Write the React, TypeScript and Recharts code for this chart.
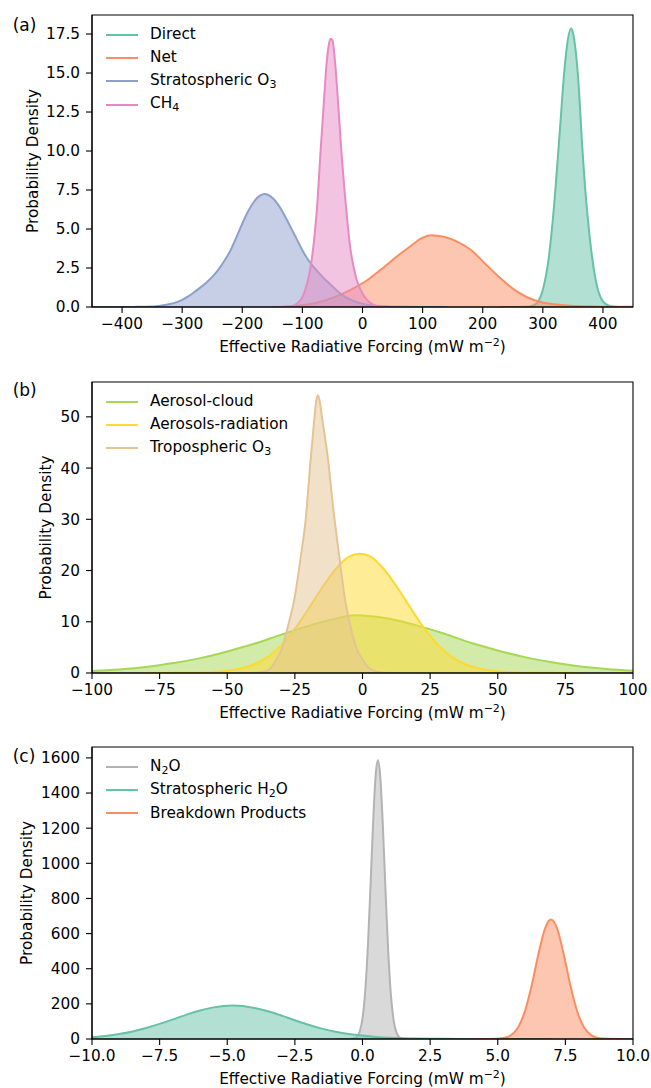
import React from "react";
import { Area, ComposedChart, Legend, ReferenceArea, XAxis, YAxis } from "recharts";

// Three stacked KDE panels: (a) direct/net/strat O3/CH4, (b) aerosols + trop O3, (c) N2O etc.
// Points are [forcing, density].

type Pt = [number, number];

const FONT = "'DejaVu Sans', sans-serif";
const FS = 15.3;
const SET2 = {
  green: "#66c2a5",
  orange: "#fc8d62",
  blue: "#8da0cb",
  pink: "#e78ac3",
  lime: "#a6d854",
  yellow: "#ffd92f",
  tan: "#e5c494",
  grey: "#b3b3b3",
};

// ---- panel (a) ----
const aDirect: Pt[] = [
  [230, 0], [260, 0.005], [270, 0.01], [280, 0.05], [290, 0.25], [300, 1.1], [310, 3.2],
  [320, 7.1], [325, 9.6], [330, 12.2], [335, 14.8], [340, 16.7], [347, 17.85], [350, 17.6],
  [355, 16.3], [360, 14.0], [365, 10.6], [370, 7.8], [375, 5.6], [380, 3.8], [390, 1.35],
  [400, 0.36], [410, 0.08], [420, 0.015], [435, 0], [450, 0],
];
const aNet: Pt[] = [
  [-150, 0], [-125, 0.03], [-106, 0.1], [-78, 0.26], [-49, 0.6], [-20, 1.1], [9, 1.75],
  [37, 2.6], [55, 3.17], [78, 3.85], [100, 4.45], [115, 4.6], [135, 4.5], [158, 4.18],
  [181, 3.64], [204, 2.78], [227, 1.93], [250, 1.18], [273, 0.64], [296, 0.32], [319, 0.17],
  [353, 0.06], [400, 0.02], [450, 0.01],
];
const aStratO3: Pt[] = [
  [-450, 0], [-400, 0.002], [-380, 0.007], [-360, 0.022], [-340, 0.07], [-320, 0.19],
  [-310, 0.3], [-300, 0.46], [-290, 0.68], [-280, 0.95], [-270, 1.24], [-260, 1.56],
  [-250, 1.93], [-240, 2.38], [-230, 2.95], [-220, 3.6], [-210, 4.45], [-200, 5.35],
  [-190, 6.15], [-180, 6.78], [-170, 7.15], [-163, 7.24], [-150, 7.0], [-140, 6.55],
  [-130, 5.9], [-120, 5.15], [-110, 4.4], [-100, 3.64], [-90, 3.0], [-80, 2.5], [-70, 2.08],
  [-60, 1.68], [-50, 1.32], [-40, 0.96], [-30, 0.68], [-20, 0.47], [-10, 0.32], [0, 0.21],
  [10, 0.13], [20, 0.08], [40, 0.03], [60, 0.01], [100, 0], [140, 0],
];
const aCH4: Pt[] = [
  [-140, 0], [-120, 0.04], [-110, 0.19], [-100, 0.63], [-95, 1.13], [-90, 1.84], [-85, 2.9],
  [-80, 4.5], [-75, 6.7], [-70, 9.85], [-65, 12.7], [-60, 15.5], [-55, 17.0], [-53, 17.2],
  [-50, 17.1], [-45, 15.4], [-40, 12.75], [-35, 9.9], [-30, 7.5], [-25, 5.4], [-20, 3.7],
  [-15, 2.6], [-10, 1.8], [-5, 1.27], [0, 0.86], [10, 0.35], [20, 0.12], [30, 0.03], [45, 0],
];
const aXTicks = [-400, -300, -200, -100, 0, 100, 200, 300, 400];
const aYTicks = [0, 2.5, 5, 7.5, 10, 12.5, 15, 17.5];

// ---- panel (b) ----
const bCloud: Pt[] = [
  [-100, 0.4], [-90, 0.7], [-80, 1.17], [-70, 1.95], [-60, 2.9], [-50, 4.2], [-40, 5.7],
  [-30, 7.5], [-20, 9.2], [-10, 10.6], [-3, 11.26], [0, 11.2], [10, 10.6], [20, 9.3],
  [30, 7.7], [40, 5.9], [50, 4.4], [60, 3.1], [70, 2.1], [80, 1.3], [90, 0.78], [100, 0.45],
];
const bRadiation: Pt[] = [
  [-80, 0], [-70, 0.02], [-60, 0.08], [-55, 0.2], [-50, 0.45], [-45, 0.9], [-40, 1.7],
  [-35, 3.15], [-30, 5.4], [-25, 8.6], [-20, 12.5], [-15, 16.6], [-10, 20.2], [-5, 22.7],
  [-1, 23.3], [3, 22.7], [8, 20.2], [13, 16.6], [18, 12.5], [23, 8.6], [28, 5.4], [33, 3.15],
  [38, 1.7], [43, 0.9], [48, 0.45], [55, 0.15], [65, 0.03], [80, 0],
];
const bTropO3: Pt[] = [
  [-45, 0], [-40, 0.05], [-37, 0.2], [-34, 0.9], [-32, 2.5], [-30, 4.5], [-27.6, 9],
  [-25, 15], [-23, 22], [-21, 30], [-19.2, 41.5], [-18, 48.5], [-17.2, 52.8], [-16.5, 54.2],
  [-15.8, 53], [-15, 50], [-12.7, 41.5], [-11, 33], [-8.4, 22], [-6.5, 14.5], [-4.4, 9],
  [-2, 4.5], [0.2, 2.5], [2, 1.2], [5, 0.3], [8, 0.05], [15, 0],
];
const bXTicks = [-100, -75, -50, -25, 0, 25, 50, 75, 100];
const bYTicks = [0, 10, 20, 30, 40, 50];

// ---- panel (c) ----
const cN2O: Pt[] = [
  [-1, 0], [-0.5, 0.2], [-0.3, 3.7], [-0.2, 14], [-0.1, 44], [0, 117], [0.1, 271], [0.2, 531],
  [0.3, 886], [0.4, 1260], [0.5, 1526], [0.57, 1587], [0.65, 1508], [0.75, 1225], [0.85, 848],
  [0.95, 500], [1.05, 251], [1.15, 107], [1.25, 39], [1.35, 12], [1.5, 2], [1.7, 0.2], [2.5, 0],
];
const cStratH2O: Pt[] = [
  [-10, 10], [-9.5, 17.4], [-9, 28], [-8.5, 43], [-8, 63], [-7.5, 86], [-7, 112], [-6.5, 139],
  [-6, 162], [-5.5, 180], [-4.8, 190], [-4, 177], [-3.5, 158], [-3, 134], [-2.5, 107],
  [-2, 81], [-1.5, 59], [-1, 41], [-0.5, 28], [0, 20], [0.5, 12], [1, 7], [1.5, 4], [2, 2.5],
  [3, 1], [4, 0.3], [5, 0.1], [7, 0],
];
const cBreakdown: Pt[] = [
  [4, 0], [5, 1.6], [5.25, 6.6], [5.5, 23], [5.75, 66], [6, 156], [6.25, 302], [6.5, 481],
  [6.75, 630], [6.97, 680], [7.2, 626], [7.45, 474], [7.7, 295], [7.95, 151], [8.2, 64],
  [8.45, 22], [8.7, 6.2], [9, 1.1], [10, 0],
];
const cXTicks = [-10, -7.5, -5, -2.5, 0, 2.5, 5, 7.5, 10];
const cYTicks = [0, 200, 400, 600, 800, 1000, 1200, 1400, 1600];

const rows = (pts: Pt[]) => pts.map(([x, y]) => ({ x, y }));
const minus = (s: string) => s.replace("-", "\u2212");
const intFmt = (v: number) => minus(String(v));
const oneDec = (v: number) => minus(v.toFixed(1));

const sub = (t: string) => (
  <span style={{ fontSize: 11, position: "relative", top: 3 }}>{t}</span>
);

type Series = { name: string; label: React.ReactNode; color: string; data: Pt[] };

type PanelProps = {
  letter: string;
  letterDy: number;
  plotTop: number;
  plotH: number;
  xDomain: [number, number];
  xTicks: number[];
  xFmt: (v: number) => string;
  yMax: number;
  yTicks: number[];
  yFmt: (v: number) => string;
  yLabelX: number;
  series: Series[];
};

const MT = 15;
const XAXIS_H = 50;

function LegendBox({ series }: { series: Series[] }) {
  return (
    <div style={{ fontFamily: FONT, fontSize: FS, color: "#000" }}>
      {series.map((s) => (
        <div key={s.name} style={{ display: "flex", alignItems: "center", height: 23.3 }}>
          <span style={{ width: 32, height: 2, background: s.color, marginRight: 12 }} />
          <span style={{ lineHeight: `${FS}px`, whiteSpace: "nowrap" }}>{s.label}</span>
        </div>
      ))}
    </div>
  );
}

function Panel(p: PanelProps) {
  const H = MT + p.plotH + XAXIS_H;
  const tickStyle = { fontSize: FS, fill: "#000", fontFamily: FONT };
  return (
    <div style={{ position: "absolute", left: 0, top: p.plotTop - MT, width: 651, height: H }}>
      <div
        style={{
          position: "absolute", left: 12.7, top: MT + p.letterDy - 14.4, fontFamily: FONT,
          fontSize: 17, lineHeight: "17px", color: "#000",
        }}
      >
        {p.letter}
      </div>
      <ComposedChart width={651} height={H} margin={{ top: MT, right: 18, bottom: 0, left: 0 }}>
        {p.series.map((s) => (
          <Area
            key={s.name}
            data={rows(s.data)}
            dataKey="y"
            name={s.name}
            type="monotone"
            stroke={s.color}
            strokeWidth={2}
            fill={s.color}
            fillOpacity={0.5}
            dot={false}
            activeDot={false}
            isAnimationActive={false}
          />
        ))}
        <ReferenceArea
          x1={p.xDomain[0]}
          x2={p.xDomain[1]}
          y1={0}
          y2={p.yMax}
          fill="none"
          stroke="#000"
          strokeWidth={1.1}
        />
        <XAxis
          dataKey="x"
          type="number"
          domain={p.xDomain}
          ticks={p.xTicks}
          allowDataOverflow
          tickFormatter={p.xFmt}
          tick={tickStyle}
          tickSize={6}
          tickMargin={5}
          height={XAXIS_H}
          stroke="#000"
          axisLine={{ stroke: "#000", strokeWidth: 1.1 }}
          tickLine={{ stroke: "#000", strokeWidth: 1.1 }}
          label={{
            content: (props: any) => {
              const vb = props.viewBox;
              return (
                <text
                  x={vb.x + vb.width / 2}
                  y={vb.y + 45}
                  textAnchor="middle"
                  fontSize={FS}
                  fontFamily={FONT}
                  fill="#000"
                >
                  Effective Radiative Forcing (mW m
                  <tspan dy={-6.5} fontSize={11}>{"\u22122"}</tspan>
                  <tspan dy={6.5}>)</tspan>
                </text>
              );
            },
          }}
        />
        <YAxis
          type="number"
          domain={[0, p.yMax]}
          ticks={p.yTicks}
          allowDataOverflow
          tickFormatter={p.yFmt}
          tick={tickStyle}
          tickSize={6}
          tickMargin={6}
          width={92}
          stroke="#000"
          axisLine={{ stroke: "#000", strokeWidth: 1.1 }}
          tickLine={{ stroke: "#000", strokeWidth: 1.1 }}
          label={{
            content: (props: any) => {
              const vb = props.viewBox;
              const cy = vb.y + vb.height / 2;
              return (
                <text
                  transform={`translate(${p.yLabelX + 4}, ${cy}) rotate(-90)`}
                  textAnchor="middle"
                  fontSize={FS}
                  fontFamily={FONT}
                  fill="#000"
                >
                  Probability Density
                </text>
              );
            },
          }}
        />
        <Legend
          layout="vertical"
          align="center"
          verticalAlign="middle"
          wrapperStyle={{ left: 106, top: MT + 19.7 - 11.65, width: "auto", height: "auto" }}
          content={() => <LegendBox series={p.series} />}
        />
      </ComposedChart>
    </div>
  );
}

export default function App() {
  return (
    <div
      style={{
        position: "absolute", left: 0, top: 0, width: 651, height: 1088,
        background: "#fff", overflow: "hidden",
      }}
    >
      <Panel
        letter="(a)"
        letterDy={16}
        plotTop={15}
        plotH={292}
        xDomain={[-450, 450]}
        xTicks={aXTicks}
        xFmt={intFmt}
        yMax={18.72}
        yTicks={aYTicks}
        yFmt={oneDec}
        yLabelX={33.5}
        series={[
          { name: "Direct", label: "Direct", color: SET2.green, data: aDirect },
          { name: "Net", label: "Net", color: SET2.orange, data: aNet },
          { name: "Stratospheric O3", label: <>Stratospheric O{sub("3")}</>, color: SET2.blue, data: aStratO3 },
          { name: "CH4", label: <>CH{sub("4")}</>, color: SET2.pink, data: aCH4 },
        ]}
      />
      <Panel
        letter="(b)"
        letterDy={14}
        plotTop={382}
        plotH={291}
        xDomain={[-100, 100]}
        xTicks={bXTicks}
        xFmt={intFmt}
        yMax={56.8}
        yTicks={bYTicks}
        yFmt={intFmt}
        yLabelX={47}
        series={[
          { name: "Aerosol-cloud", label: "Aerosol-cloud", color: SET2.lime, data: bCloud },
          { name: "Aerosols-radiation", label: "Aerosols-radiation", color: SET2.yellow, data: bRadiation },
          { name: "Tropospheric O3", label: <>Tropospheric O{sub("3")}</>, color: SET2.tan, data: bTropO3 },
        ]}
      />
      <Panel
        letter="(c)"
        letterDy={15}
        plotTop={747}
        plotH={292}
        xDomain={[-10, 10]}
        xTicks={cXTicks}
        xFmt={oneDec}
        yMax={1662}
        yTicks={cYTicks}
        yFmt={intFmt}
        yLabelX={28}
        series={[
          { name: "N2O", label: <>N{sub("2")}O</>, color: SET2.grey, data: cN2O },
          { name: "Stratospheric H2O", label: <>Stratospheric H{sub("2")}O</>, color: SET2.green, data: cStratH2O },
          { name: "Breakdown Products", label: "Breakdown Products", color: SET2.orange, data: cBreakdown },
        ]}
      />
    </div>
  );
}
